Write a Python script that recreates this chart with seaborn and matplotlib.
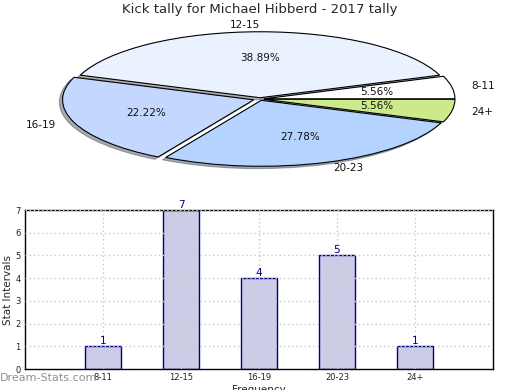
import matplotlib
matplotlib.use("Agg")
import matplotlib.pyplot as plt
import seaborn as sns
import pandas as pd

categories = ["8-11", "12-15", "16-19", "20-23", "24+"]
counts = [1, 7, 4, 5, 1]
pie_colors = ["#ffffff", "#eaf1ff", "#c4d8ff", "#b4d4ff", "#cdea8a"]
title = "Kick tally for Michael Hibberd - 2017 tally"

sns.set_theme(style="white")
plt.rcParams["font.family"] = ["DejaVu Sans"]

fig = plt.figure(figsize=(5.2, 3.9), dpi=100)

# Pie
axp = fig.add_axes([0.0, 0.5205, 1.0, 0.451])
wedges, texts, autotexts = axp.pie(
    counts, labels=categories, colors=pie_colors, autopct="%.2f%%",
    startangle=0, counterclock=True,
    shadow={"ox": -0.012, "oy": -0.025, "shade": 0.6},
    explode=[0.02, 0.02, 0.035, 0.02, 0.02], labeldistance=1.1, pctdistance=0.6,
    wedgeprops=dict(edgecolor="black", linewidth=0.8),
    textprops=dict(fontsize=7.5, color="#111111"))
axp.set_aspect("auto")
axp.set_xlim(-1.36, 1.36)
axp.set_ylim(-1.333, 1.333)
fig.text(0.5, 1 - 10 / 390, title, fontsize=9.5, ha="center", va="center")

# Bars
axb = fig.add_axes([0.048, 0.0538, 0.9, 0.4077])
df = pd.DataFrame({"cat": categories, "n": counts})
sns.barplot(data=df, x="cat", y="n", order=categories, color="#ccccE6",
            edgecolor="#000080", linewidth=1.0, width=0.47, saturation=1, ax=axb)
for i, v in enumerate(counts):
    axb.text(i, v, str(v), ha="center", va="bottom", fontsize=7.5, color="#000080")
axb.set_xlim(-1, 5)
axb.set_ylim(0, 7)
axb.set_yticks(range(0, 8))
axb.grid(True, linestyle=(0, (1, 2)), color="#c8c8c8", linewidth=1.0)
axb.set_axisbelow(False)
axb.tick_params(axis="both", labelsize=6, length=2, pad=1, colors="#222222")
axb.set_ylabel("Stat Intervals", fontsize=7.5, labelpad=2)
axb.set_xlabel("Frequency", fontsize=7.5, labelpad=2)
for s in axb.spines.values():
    s.set_color("black")
    s.set_linewidth(1.0)

fig.text(0.0, 0.03, "Dream-Stats.com", fontsize=8, color="#909090", ha="left", va="center")

fig.savefig("out.png", dpi=100)
